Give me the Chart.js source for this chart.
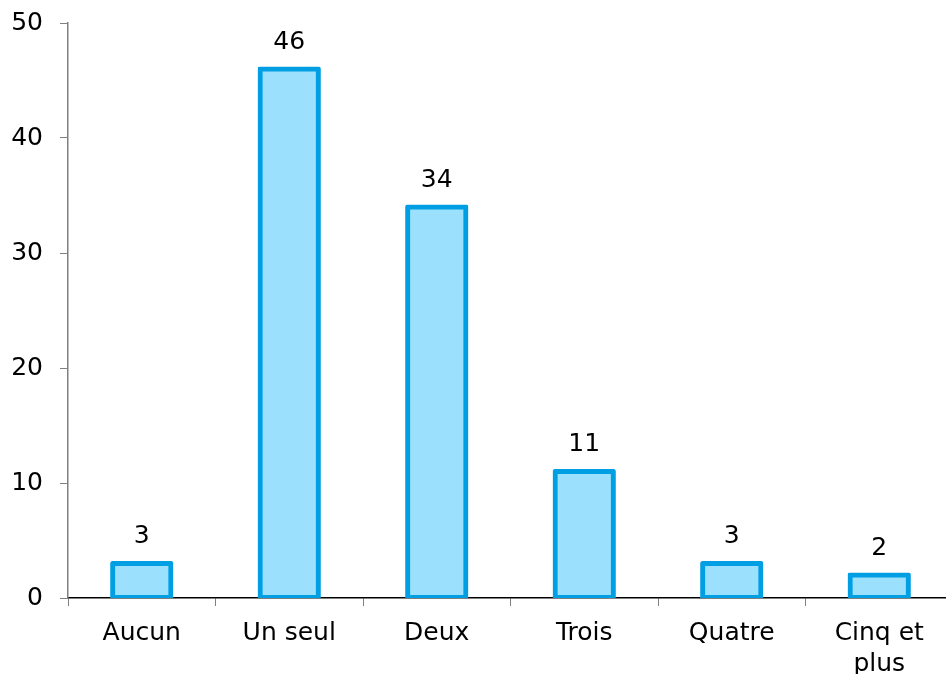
<!DOCTYPE html>
<html>
<head>
<meta charset="utf-8">
<script src="https://cdn.jsdelivr.net/npm/chart.js@4"></script>
<style>
  html, body { margin: 0; padding: 0; overflow: hidden; background: #fff; }
  #wrap { width: 956px; height: 674px; position: relative; }
</style>
</head>
<body>
<div id="wrap"><canvas id="chart"></canvas></div>
<script>
// categories and values
const categories = ['Aucun', 'Un seul', 'Deux', 'Trois', 'Quatre', ['Cinq et', 'plus']];
const values = [3, 46, 34, 11, 3, 2];
const yTicks = [0, 10, 20, 30, 40, 50];

Chart.defaults.font.family = '"DejaVu Sans", Verdana, sans-serif';
Chart.defaults.font.size = 25;
Chart.defaults.color = '#000';

// valeurs au-dessus des barres
const barLabels = {
  id: 'barLabels',
  afterDatasetsDraw(chart) {
    const ctx = chart.ctx;
    const meta = chart.getDatasetMeta(0);
    ctx.save();
    ctx.font = '25px "DejaVu Sans", Verdana, sans-serif';
    ctx.fillStyle = '#000';
    ctx.textAlign = 'center';
    ctx.textBaseline = 'middle';
    meta.data.forEach(function (bar, i) {
      ctx.fillText(values[i], bar.x, bar.y - 27);
    });
    ctx.restore();
  }
};

new Chart(document.getElementById('chart'), {
  type: 'bar',
  data: {
    labels: categories,
    datasets: [{
      data: values,
      backgroundColor: '#9BE0FC',
      borderColor: '#009FE3',
      borderWidth: 5,
      borderSkipped: false,
      borderRadius: 2,
      inflateAmount: 2.5,
      barPercentage: 0.395,
      categoryPercentage: 1
    }]
  },
  options: {
    responsive: true,
    maintainAspectRatio: false,
    animation: false,
    layout: { padding: { top: 0, right: 3, left: 0, bottom: 0 } },
    plugins: {
      legend: { display: false },
      tooltip: { enabled: false }
    },
    scales: {
      x: {
        grid: { drawOnChartArea: false, drawTicks: true, tickLength: 8, color: '#808080', offset: true },
        border: { color: '#000', width: 1.5 },
        ticks: { padding: 12, font: { size: 25, lineHeight: 1.25 }, maxRotation: 0, autoSkip: false },
        afterFit(scale) { scale.height = 76; }
      },
      y: {
        min: 0,
        max: 50,
        afterBuildTicks(scale) { scale.ticks = yTicks.map(v => ({ value: v })); },
        grid: { drawOnChartArea: false, drawTicks: true, tickLength: 8, color: '#808080' },
        border: { color: '#808080', width: 1.5 },
        ticks: { padding: 17, font: { size: 25 } },
        afterFit(scale) { scale.width = 68; scale.paddingTop = 23; }
      }
    }
  },
  plugins: [barLabels]
});
</script>
</body>
</html>
